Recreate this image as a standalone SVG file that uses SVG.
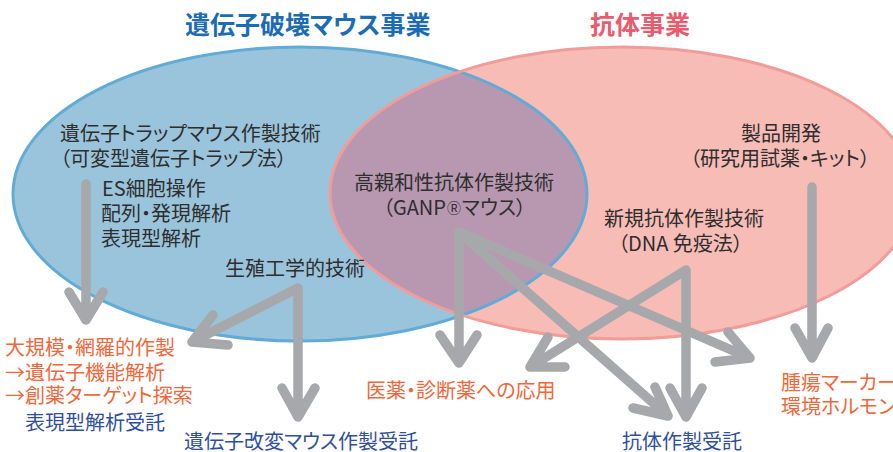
<svg xmlns="http://www.w3.org/2000/svg" width="893" height="452" viewBox="0 0 893 452">
<defs>
<style>
text{font-family:"Noto Sans CJK JP","Noto Sans",sans-serif;font-size:20px;font-feature-settings:"palt";}
.t{fill:#2e2e2e;}
.o{fill:#f0673a;}
.b{fill:#2f4f9c;}
.ttl{font-size:25px;font-weight:bold;}
.arr{fill:none;stroke:#a7a8ac;stroke-width:9.5;stroke-linecap:round;stroke-linejoin:round;}
</style>
<clipPath id="clipBlue"><ellipse cx="300" cy="194" rx="287" ry="147"/></clipPath>
</defs>
<rect width="893" height="452" fill="#ffffff"/>
<g id="venn">
<ellipse cx="300" cy="194" rx="287" ry="147" fill="#9ac4dc"/>
<ellipse cx="622" cy="193" rx="292" ry="146" fill="#f7bcb6"/>
<ellipse cx="622" cy="193" rx="292" ry="146" fill="#b898b1" clip-path="url(#clipBlue)"/>
<ellipse cx="300" cy="194" rx="287" ry="147" fill="none" stroke="#62abd6" stroke-width="3"/>
<ellipse cx="622" cy="193" rx="292" ry="146" fill="none" stroke="#f29c9a" stroke-width="3"/>
</g>
<g id="titles">
<text class="ttl" x="185" y="34" fill="#1b6cb4">遺伝子破壊マウス事業</text>
<text class="ttl" x="590" y="34" fill="#e95b6d">抗体事業</text>
</g>
<g id="connectors">
<path class="arr" d="M86,184 L86,320 M69,292 L86,320 L103,292"/>
<path class="arr" d="M192,342 L298,288 L298,417 M213,315 L192,342 L228,345 M282,388 L298,417 L315,388"/>
<path class="arr" d="M459,363 L459,232 L750,358 M459,232 L668,416 M440,335 L459,363 L477,335 M728,332 L750,358 L715,362 M655,387 L668,416 L633,408"/>
<path class="arr" d="M530,367 L686,270 L686,417 M548,337 L530,367 L565,367 M670,388 L686,417 L702,388"/>
<path class="arr" d="M812,187 L812,358 M795,328 L812,358 L828,328"/>
</g>
<g id="node-trap">
<text class="t" x="60" y="141">遺伝子トラップマウス作製技術</text>
<text class="t" x="60" y="166">（可変型遺伝子トラップ法）</text>
</g>
<g id="node-es">
<text class="t" x="102" y="196">ES細胞操作</text>
<text class="t" x="101" y="221">配列・発現解析</text>
<text class="t" x="101" y="246">表現型解析</text>
</g>
<g id="node-repro">
<text class="t" x="225" y="276">生殖工学的技術</text>
</g>
<g id="node-ganp">
<text class="t" x="354" y="190">高親和性抗体作製技術</text>
<text class="t" x="383" y="215">（GANP<tspan font-size="14" dx="1" dy="-2">Ⓡ</tspan><tspan dy="2" dx="1">マウス）</tspan></text>
</g>
<g id="node-product">
<text class="t" x="741" y="141">製品開発</text>
<text class="t" x="690" y="166">（研究用試薬・キット）</text>
</g>
<g id="node-dna">
<text class="t" x="604" y="226">新規抗体作製技術</text>
<text class="t" x="618" y="251">（DNA 免疫法）</text>
</g>
<g id="node-large">
<text class="o" x="5" y="355">大規模・網羅的作製</text>
<text class="o" x="5" y="380">→遺伝子機能解析</text>
<text class="o" x="5" y="403">→創薬ターゲット探索</text>
<text class="b" x="25" y="430">表現型解析受託</text>
</g>
<g id="node-mouse-service">
<text class="b" x="184" y="449">遺伝子改変マウス作製受託</text>
</g>
<g id="node-medical">
<text class="o" x="366" y="398">医薬・診断薬への応用</text>
</g>
<g id="node-antibody-service">
<text class="b" x="622" y="449">抗体作製受託</text>
</g>
<g id="node-marker">
<text class="o" x="781" y="390">腫瘍マーカー</text>
<text class="o" x="781" y="414">環境ホルモン</text>
</g>
</svg>
